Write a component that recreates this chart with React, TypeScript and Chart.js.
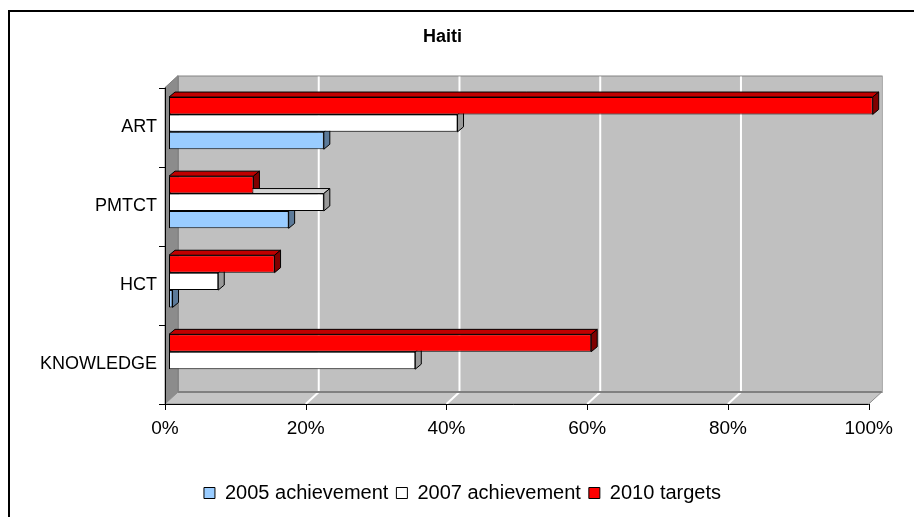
import React, { useEffect, useRef } from "react";
import { Chart, registerables } from "chart.js";

Chart.register(...registerables);

const categories = ["ART", "PMTCT", "HCT", "KNOWLEDGE"];
const seriesNames = ["2005 achievement", "2007 achievement", "2010 targets"];
const values2005: (number | null)[] = [22, 17, 0.5, null];
const values2007: (number | null)[] = [41, 22, 7, 35];
const values2010: (number | null)[] = [100, 12, 15, 60];
const xTicks = [0, 20, 40, 60, 80, 100];

const FONT = "'Liberation Sans', Arial, sans-serif";

// 3D geometry (pixels)
const FRONT_DX = -4, FRONT_DY = 4; // front plane relative to bar plane
const WALL_DX = 13, WALL_DY = -12; // back wall relative to front plane
const BAR_DX = 6, BAR_DY = -5; // bar depth
const LEGEND_SHIFT = 20;

const faceColors: Record<string, { front: string; top: string; side: string }> = {
  "2005 achievement": { front: "#99CCFF", top: "#7FA8D4", side: "#5C7A99" },
  "2007 achievement": { front: "#FFFFFF", top: "#D4D4D4", side: "#999999" },
  "2010 targets": { front: "#FF0000", top: "#C00000", side: "#800000" },
};

const legendShift = {
  id: "legendShift",
  afterLayout(chart: any) {
    if (chart.legend) {
      chart.legend.left += LEGEND_SHIFT;
      chart.legend.right += LEGEND_SHIFT;
    }
  },
};

const threeD = {
  id: "threeD",
  beforeDatasetsDraw(chart: any) {
    const { ctx, chartArea: ca, scales } = chart;
    const xs = scales.x;
    const fl = ca.left + FRONT_DX, fr = ca.right + FRONT_DX;
    const ft = ca.top + FRONT_DY, fb = ca.bottom + FRONT_DY;
    const bl = fl + WALL_DX, br = fr + WALL_DX, bt = ft + WALL_DY, bb = fb + WALL_DY;
    ctx.save();
    // back wall
    ctx.fillStyle = "#C0C0C0";
    ctx.fillRect(bl, bt, br - bl, bb - bt);
    ctx.strokeStyle = "#8C8C8C";
    ctx.lineWidth = 1;
    ctx.strokeRect(bl + 0.5, bt + 0.5, br - bl, bb - bt);
    // left wall
    ctx.beginPath();
    ctx.moveTo(fl, ft); ctx.lineTo(bl, bt); ctx.lineTo(bl, bb); ctx.lineTo(fl, fb); ctx.closePath();
    ctx.fillStyle = "#8C8C8C";
    ctx.fill();
    ctx.strokeStyle = "#808080";
    ctx.stroke();
    // floor
    ctx.beginPath();
    ctx.moveTo(fl, fb); ctx.lineTo(bl, bb); ctx.lineTo(br, bb); ctx.lineTo(fr, fb); ctx.closePath();
    ctx.fillStyle = "#C4C4C4";
    ctx.fill();
    ctx.strokeStyle = "#8C8C8C";
    ctx.stroke();
    // gridlines
    ctx.strokeStyle = "#FFFFFF";
    ctx.lineWidth = 2;
    xTicks.forEach((v) => {
      const xf = xs.getPixelForValue(v) + FRONT_DX;
      const xb = xf + WALL_DX;
      if (v > 0 && v < 100) {
        ctx.beginPath();
        ctx.moveTo(xb, bt + 1); ctx.lineTo(xb, bb);
        ctx.stroke();
        ctx.beginPath();
        ctx.moveTo(xb, bb); ctx.lineTo(xf, fb);
        ctx.stroke();
      }
    });
    // back-bottom edge
    ctx.strokeStyle = "#808080";
    ctx.lineWidth = 2;
    ctx.beginPath();
    ctx.moveTo(bl, bb); ctx.lineTo(br, bb);
    ctx.stroke();
    // axes
    ctx.strokeStyle = "#000000";
    ctx.lineWidth = 1;
    ctx.beginPath();
    ctx.moveTo(Math.round(fl) + 0.5, ft); ctx.lineTo(Math.round(fl) + 0.5, fb + 6);
    ctx.moveTo(fl - 6, Math.round(fb) + 0.5); ctx.lineTo(fr, Math.round(fb) + 0.5);
    ctx.stroke();
    // category tick marks
    const n = categories.length;
    for (let i = 0; i <= n; i++) {
      const y = Math.round(ft + ((fb - ft) * i) / n) + 0.5;
      ctx.beginPath();
      ctx.moveTo(fl - 6, y); ctx.lineTo(fl, y);
      ctx.stroke();
    }
    // value tick marks
    xTicks.forEach((v) => {
      const x = Math.round(xs.getPixelForValue(v) + FRONT_DX) + 0.5;
      ctx.beginPath();
      ctx.moveTo(x, fb); ctx.lineTo(x, fb + 6);
      ctx.stroke();
    });
    // bar depth faces
    chart.data.datasets.forEach((ds: any, di: number) => {
      const meta = chart.getDatasetMeta(di);
      const col = faceColors[ds.label];
      meta.data.forEach((el: any, i: number) => {
        const v = ds.data[i];
        if (v === null || v === undefined) return;
        const left = Math.min(el.base, el.x), right = Math.max(el.base, el.x);
        const top = el.y - el.height / 2, bottom = el.y + el.height / 2;
        ctx.lineWidth = 1;
        ctx.strokeStyle = "#000000";
        // top face
        ctx.beginPath();
        ctx.moveTo(left, top); ctx.lineTo(left + BAR_DX, top + BAR_DY);
        ctx.lineTo(right + BAR_DX, top + BAR_DY); ctx.lineTo(right, top); ctx.closePath();
        ctx.fillStyle = col.top; ctx.fill(); ctx.stroke();
        // side face
        ctx.beginPath();
        ctx.moveTo(right, top); ctx.lineTo(right + BAR_DX, top + BAR_DY);
        ctx.lineTo(right + BAR_DX, bottom + BAR_DY); ctx.lineTo(right, bottom); ctx.closePath();
        ctx.fillStyle = col.side; ctx.fill(); ctx.stroke();
      });
    });
    ctx.restore();
  },
};

export default function App() {
  const ref = useRef<HTMLCanvasElement | null>(null);
  useEffect(() => {
    if (!ref.current) return;
    const series = [
      { label: seriesNames[2], data: values2010 },
      { label: seriesNames[1], data: values2007 },
      { label: seriesNames[0], data: values2005 },
    ];
    const chart = new Chart(ref.current, {
      type: "bar",
      data: {
        labels: categories,
        datasets: series.map((s) => ({
          label: s.label,
          data: s.data,
          backgroundColor: faceColors[s.label].front,
          borderColor: "#000000",
          borderWidth: 1,
          borderSkipped: false,
          categoryPercentage: 0.66,
          barPercentage: 1,
        })),
      },
      options: {
        indexAxis: "y",
        responsive: false,
        animation: false,
        devicePixelRatio: 1,
        layout: { padding: { top: 0, right: 39, bottom: 4, left: 0 } },
        scales: {
          x: {
            min: 0,
            max: 100,
            afterBuildTicks: (scale: any) => {
              scale.ticks = xTicks.map((v) => ({ value: v }));
            },
            afterFit: (scale: any) => {
              scale.height = 75;
            },
            grid: { display: false, drawTicks: false },
            border: { display: false },
            ticks: {
              padding: 17,
              labelOffset: FRONT_DX,
              color: "#000000",
              font: { family: FONT, size: 19 },
              callback: (v: any) => v + "%",
            },
          },
          y: {
            afterFit: (scale: any) => {
              scale.width = 159;
            },
            grid: { display: false, drawTicks: false },
            border: { display: false },
            ticks: {
              padding: 12,
              labelOffset: FRONT_DY,
              color: "#000000",
              font: { family: FONT, size: 18 },
            },
          },
        },
        plugins: {
          title: {
            display: true,
            text: "Haiti",
            color: "#000000",
            font: { family: FONT, size: 18, weight: "bold" },
            padding: { top: 14, bottom: 36 },
          },
          legend: {
            position: "bottom",
            reverse: true,
            labels: {
              boxWidth: 11,
              boxHeight: 11,
              padding: 8,
              color: "#000000",
              font: { family: FONT, size: 20 },
            },
          },
          tooltip: { enabled: false },
        },
      },
      plugins: [threeD, legendShift],
    } as any);
    return () => chart.destroy();
  }, []);
  return (
    <div
      style={{
        position: "absolute",
        left: 8,
        top: 10,
        width: 906,
        height: 507,
        boxSizing: "border-box",
        borderTop: "2px solid #000",
        borderLeft: "2px solid #000",
        background: "#fff",
      }}
    >
      <canvas ref={ref} width={904} height={505} style={{ display: "block" }} />
    </div>
  );
}
